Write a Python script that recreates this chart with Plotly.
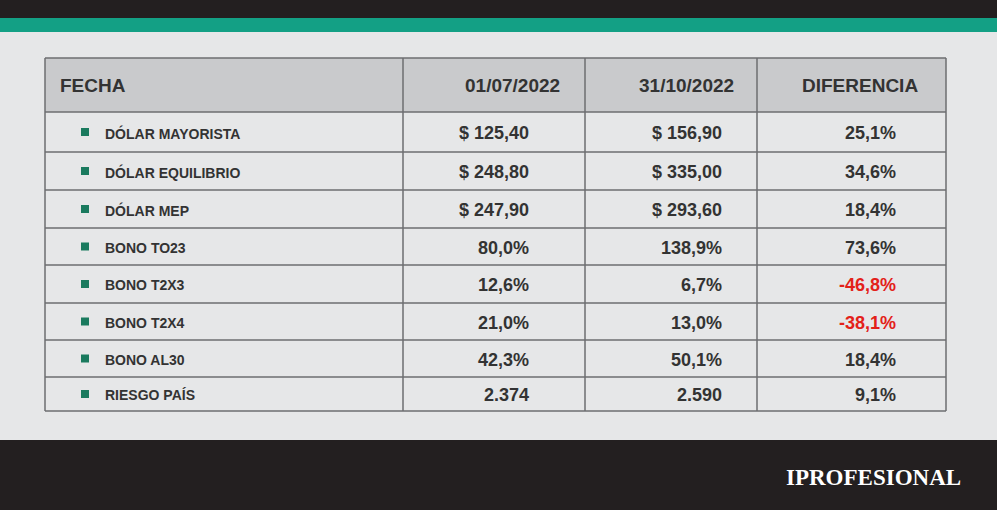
import plotly.graph_objects as go

headers = ["FECHA", "01/07/2022", "31/10/2022", "DIFERENCIA"]
labels = ["DÓLAR MAYORISTA", "DÓLAR EQUILIBRIO", "DÓLAR MEP", "BONO TO23",
          "BONO T2X3", "BONO T2X4", "BONO AL30", "RIESGO PAÍS"]
fecha1 = ["$ 125,40", "$ 248,80", "$ 247,90", "80,0%", "12,6%", "21,0%", "42,3%", "2.374"]
fecha2 = ["$ 156,90", "$ 335,00", "$ 293,60", "138,9%", "6,7%", "13,0%", "50,1%", "2.590"]
diferencia = ["25,1%", "34,6%", "18,4%", "73,6%", "-46,8%", "-38,1%", "18,4%", "9,1%"]

W, H = 997, 510
col_x = [45, 403, 585, 757, 946]
row_y = [58, 112, 152, 190, 228, 265, 303, 340, 377, 411]
txt = "#333333"

fig = go.Figure()
shapes = []
ann = []

# fondo y bandas
shapes.append(dict(type="rect", x0=0, x1=W, y0=0, y1=H, fillcolor="#e6e7e8", line_width=0, layer="below"))
shapes.append(dict(type="rect", x0=0, x1=W, y0=0, y1=18, fillcolor="#231f20", line_width=0))
shapes.append(dict(type="rect", x0=0, x1=W, y0=18, y1=32, fillcolor="#13a085", line_width=0))
shapes.append(dict(type="rect", x0=0, x1=W, y0=440, y1=H, fillcolor="#231f20", line_width=0))

# tabla
shapes.append(dict(type="rect", x0=col_x[0], x1=col_x[-1], y0=row_y[0], y1=row_y[1],
                   fillcolor="#c9cacc", line_width=0))
for y in row_y:
    shapes.append(dict(type="line", x0=col_x[0], x1=col_x[-1], y0=y, y1=y, line=dict(color="#6d6e71", width=1.5)))
for x in col_x:
    shapes.append(dict(type="line", x0=x, x1=x, y0=row_y[0], y1=row_y[-1], line=dict(color="#6d6e71", width=1.5)))

hy = (row_y[0] + row_y[1]) / 2
ann.append(dict(x=58, y=hy, text="<b>FECHA</b>", xanchor="left", font=dict(size=19, color=txt)))
for i, hx in enumerate([562, 736, 920]):
    ann.append(dict(x=hx, y=hy, text="<b>%s</b>" % headers[i + 1], xanchor="right", font=dict(size=19, color=txt)))

for i, lab in enumerate(labels):
    yc = (row_y[i + 1] + row_y[i + 2]) / 2 + 1
    shapes.append(dict(type="rect", x0=81, x1=89, y0=yc - 5, y1=yc + 3, fillcolor="#1a7a5e", line_width=0))
    ann.append(dict(x=103, y=yc, text="<b>%s</b>" % lab, xanchor="left", font=dict(size=14, color=txt)))
    ann.append(dict(x=531, y=yc, text="<b>%s</b>" % fecha1[i], xanchor="right", font=dict(size=18, color=txt)))
    ann.append(dict(x=724, y=yc, text="<b>%s</b>" % fecha2[i], xanchor="right", font=dict(size=18, color=txt)))
    col = "#e32119" if diferencia[i].startswith("-") else txt
    ann.append(dict(x=898, y=yc, text="<b>%s</b>" % diferencia[i], xanchor="right", font=dict(size=18, color=col)))

ann.append(dict(x=963, y=477, text="<b>IPROFESIONAL</b>", xanchor="right",
                font=dict(size=23, color="white", family="Liberation Serif")))

for a in ann:
    a.update(xref="x", yref="y", showarrow=False, yanchor="middle")
    a["font"].setdefault("family", "Liberation Sans, Arial")

fig.update_layout(
    width=W, height=H, margin=dict(l=0, r=0, t=0, b=0),
    shapes=shapes, annotations=ann,
    paper_bgcolor="#e6e7e8", plot_bgcolor="#e6e7e8",
    xaxis=dict(range=[0, W], visible=False, fixedrange=True),
    yaxis=dict(range=[H, 0], visible=False, fixedrange=True),
    showlegend=False,
)
fig.write_html("out.html", config={"displayModeBar": False},
               post_script="document.body.style.margin='0';document.body.style.overflow='hidden';")
